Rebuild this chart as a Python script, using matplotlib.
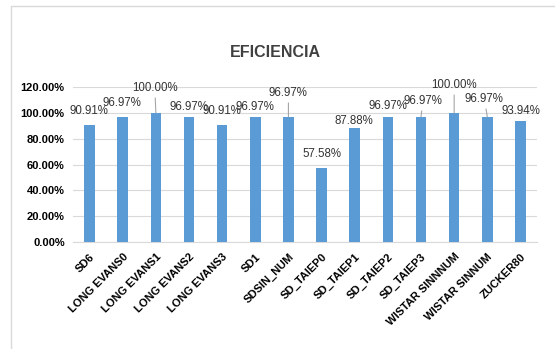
import matplotlib.pyplot as plt
from matplotlib.lines import Line2D

# --- Datos ---
categories = ["SD6", "LONG EVANS0", "LONG EVANS1", "LONG EVANS2", "LONG EVANS3",
              "SD1", "SDSIN_NUM", "SD_TAIEP0", "SD_TAIEP1", "SD_TAIEP2",
              "SD_TAIEP3", "WISTAR SINNNUM", "WISTAR SINNUM", "ZUCKER80"]
eficiencia = [90.91, 96.97, 100.00, 96.97, 90.91, 96.97, 96.97, 57.58,
              87.88, 96.97, 96.97, 100.00, 96.97, 93.94]
y_ticks = [0, 20, 40, 60, 80, 100, 120]

# posicion de las etiquetas (pixeles respecto a la cima de la barra) y si llevan linea guia
label_offsets = [(-1, 14), (-1, 14), (-1, 25), (0, 10), (0, 14), (0, 10), (0, 24),
                 (0, 14), (-1, 7), (0, 11), (2, 16), (0, 28), (-3, 18), (0, 10)]
leaders = [False, False, True, False, False, False, True,
           False, False, False, True, True, True, False]

plt.rcParams["font.family"] = ["Liberation Sans", "DejaVu Sans"]

fig = plt.figure(figsize=(5.55, 3.49), dpi=100)
ax = fig.add_axes([0.1315, 0.3066, 0.8361, 0.4441])

x = range(len(categories))
ax.bar(x, eficiencia, width=0.32, color="#5b9bd5", zorder=3)

ax.set_xlim(-0.5, len(categories) - 0.5)
ax.set_ylim(0, 120)
ax.set_yticks(y_ticks)
ax.set_yticklabels([f"{t:.2f}%" for t in y_ticks], fontsize=8, fontweight="bold")
ax.set_xticks(list(x))
ax.set_xticklabels(categories, rotation=45, ha="right", rotation_mode="anchor",
                   fontsize=8, fontweight="bold")
ax.tick_params(axis="y", length=0, pad=6)
ax.tick_params(axis="x", length=0, pad=7)
ax.grid(axis="y", color="#d9d9d9", lw=0.8, zorder=0)
for s in ["top", "right", "left"]:
    ax.spines[s].set_visible(False)
ax.spines["bottom"].set_color("#d9d9d9")

# etiquetas de datos
for i, v in enumerate(eficiencia):
    dx, dy = label_offsets[i]
    props = None
    if leaders[i]:
        props = dict(arrowstyle="-", color="#a6a6a6", lw=0.8, shrinkA=1, shrinkB=0)
    ax.annotate(f"{v:.2f}%", xy=(i, v), xytext=(dx, dy), textcoords="offset pixels",
                ha="center", va="center", fontsize=8.3, color="#333333",
                arrowprops=props, zorder=4)

fig.text(0.497, 0.851, "EFICIENCIA", ha="center", va="center",
         fontsize=11.5, fontweight="bold", color="#404040")

# borde del area del grafico
fig.add_artist(Line2D([0.0198, 0.0198, 1.0], [0.0, 0.983, 0.983],
                      color="#d9d9d9", lw=1, transform=fig.transFigure))

plt.savefig("out.png", dpi=100)
